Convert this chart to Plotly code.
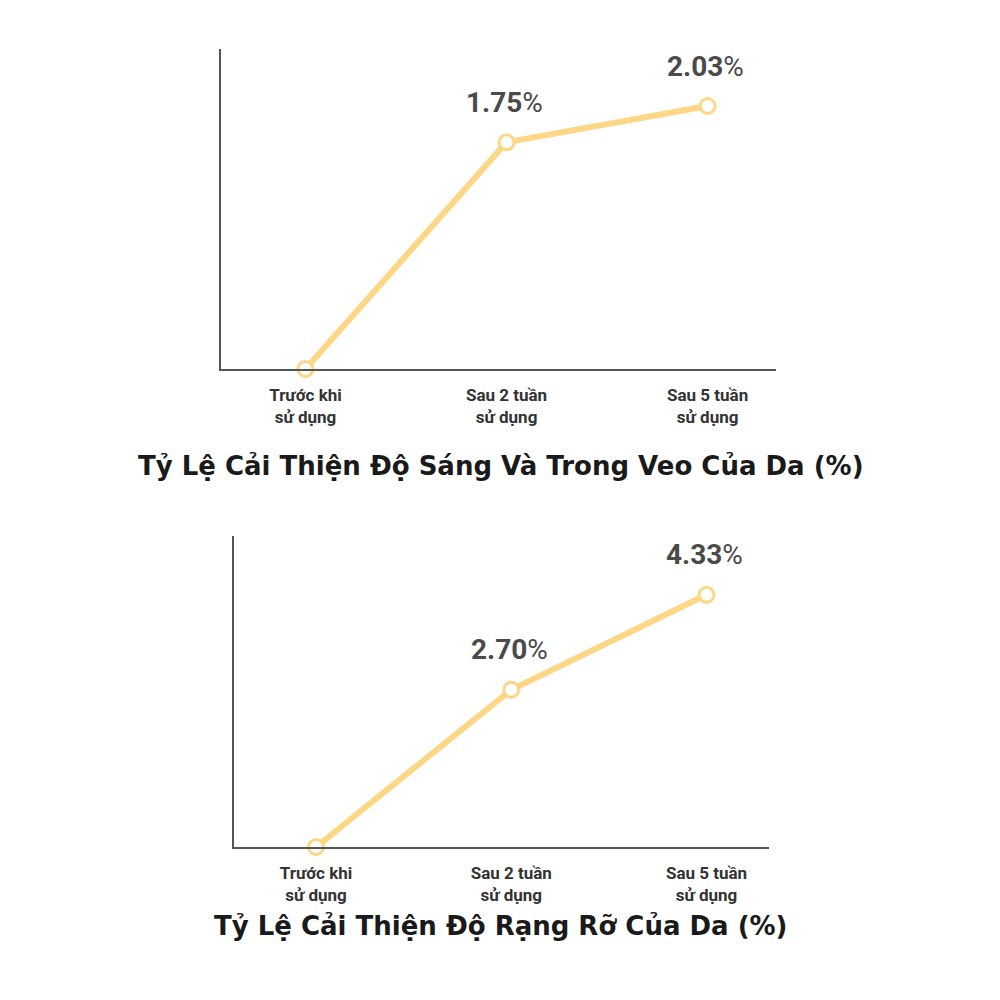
import plotly.graph_objects as go

stages = ["Trước khi<br>sử dụng", "Sau 2 tuần<br>sử dụng", "Sau 5 tuần<br>sử dụng"]
brightness = [0, 1.75, 2.03]
radiance = [0, 2.70, 4.33]
title_top = "Tỷ Lệ Cải Thiện Độ Sáng Và Trong Veo Của Da (%)"
title_bottom = "Tỷ Lệ Cải Thiện Độ Rạng Rỡ Của Da (%)"

line_color = "#fdd785"
axis_color = "#555555"
font = "Roboto"

fig = go.Figure()
for vals, xa, ya in [(brightness, "x", "y"), (radiance, "x2", "y2")]:
    fig.add_trace(go.Scatter(
        x=stages, y=vals, xaxis=xa, yaxis=ya, mode="lines+markers",
        line=dict(color=line_color, width=6),
        marker=dict(size=15, color="white", line=dict(color=line_color, width=3)),
        showlegend=False, cliponaxis=False,
    ))
    for s, v in zip(stages[1:], vals[1:]):
        fig.add_annotation(x=s, y=v, xref=xa, yref=ya, text=f"<b>{v:.2f}</b>%",
                           showarrow=False, yshift=40, xshift=-2,
                           font=dict(family=font, size=28, color="#4a4a4a"))

axis_style = dict(showline=True, linecolor=axis_color, linewidth=1.5, showgrid=False,
                  zeroline=False, ticks="", ticklabelstandoff=10,
                  tickfont=dict(family=font, size=17, color="#333", weight="bold"))
fig.update_layout(
    width=1000, height=1000, margin=dict(l=0, r=0, t=0, b=0),
    paper_bgcolor="white", plot_bgcolor="white",
    xaxis=dict(domain=[0.213, 0.768], range=[-0.42, 2.34], type="category", **axis_style),
    yaxis=dict(domain=[0.639, 0.959], range=[0, 2.47], showticklabels=False, **axis_style),
    xaxis2=dict(domain=[0.226, 0.761], range=[-0.42, 2.32], type="category", anchor="y2", **axis_style),
    yaxis2=dict(domain=[0.161, 0.472], range=[0, 5.34], showticklabels=False, anchor="x2", **axis_style),
)
fig.add_annotation(x=0.493, y=1 - 458 / 1000, xref="paper", yref="paper", showarrow=False,
                   text=f"<b>{title_top}</b>", font=dict(family="DejaVu Sans", size=26, color="#1a1a1a"))
fig.add_annotation(x=0.493, y=1 - 935 / 1000, xref="paper", yref="paper", showarrow=False,
                   text=f"<b>{title_bottom}</b>", font=dict(family="DejaVu Sans", size=26, color="#1a1a1a"))
fig.write_html("out.html")
